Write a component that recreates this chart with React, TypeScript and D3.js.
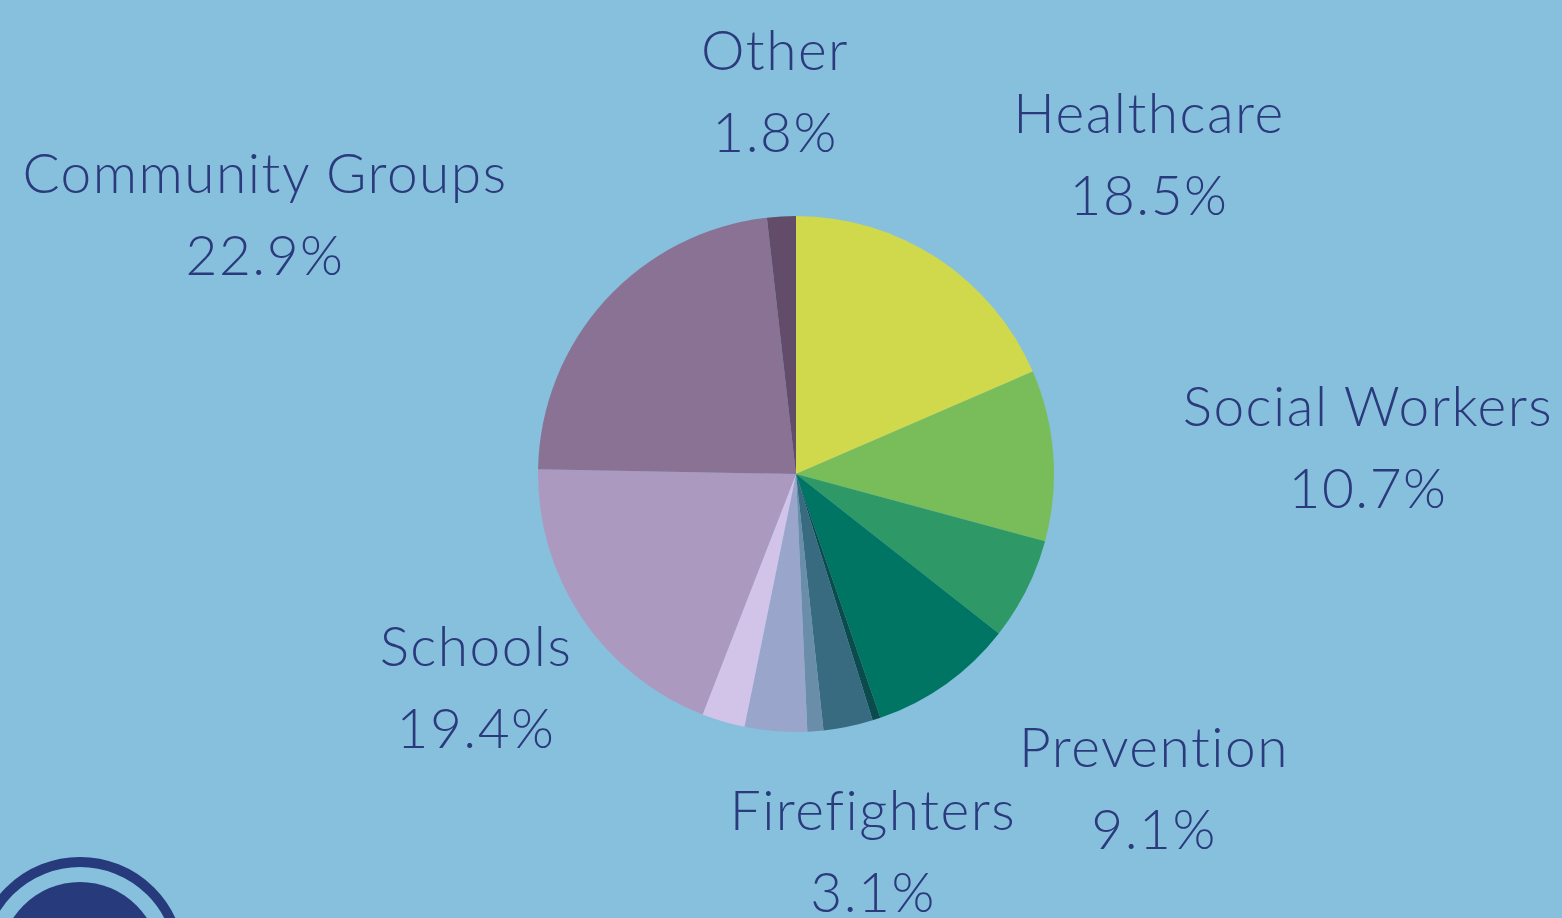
import React from "react";
import * as d3 from "d3";

const categories = ["Healthcare","Social Workers","Unlabeled A","Prevention","Unlabeled B","Firefighters","Unlabeled C","Unlabeled D","Unlabeled E","Schools","Community Groups","Other"];
const values = [18.5, 10.7, 6.4, 9.1, 0.5, 3.1, 1.0, 3.9, 2.7, 19.4, 22.9, 1.8];
const colors = ["#cfd94b","#78bd5a","#2e9966","#007563","#0b4b4c","#386b80","#6a8ea9","#9aa5cc","#d2c3e9","#ac99c0","#8a7294","#634b6a"];
const labelNames = ["Other","Healthcare","Community Groups","Social Workers","Schools","Prevention","Firefighters"];
const labelValues = ["1.8%","18.5%","22.9%","10.7%","19.4%","9.1%","3.1%"];
const labelPos: [number, number][] = [[775,70],[1149,133],[265,193],[1368,426],[476,666],[1154,767],[873,830]];

export default function App() {
  const W = 1562, H = 918;
  const cx = 796, cy = 474, r = 258;
  const pie = d3.pie<number>().sort(null).value(d => d);
  const arcs = pie(values);
  const arc = d3.arc<d3.PieArcDatum<number>>().innerRadius(0).outerRadius(r);
  const font = "Lato, 'Noto Sans', sans-serif";
  return (
    <svg width={W} height={H} style={{position:"absolute", left:0, top:0}}>
      <rect width={W} height={H} fill="#87c0dd" />
      <g transform={`translate(${cx},${cy})`}>
        {arcs.map((a, i) => (
          <path key={categories[i]} d={arc(a) || ""} fill={colors[i]} />
        ))}
      </g>
      {labelNames.map((n, i) => (
        <g key={n} fontFamily={font} fill="#2b3a7d" fontSize={55} fontWeight={300} letterSpacing={1.5} textAnchor="middle">
          <text x={labelPos[i][0]} y={labelPos[i][1]}>{n}</text>
          <text x={labelPos[i][0]} y={labelPos[i][1] + 82}>{labelValues[i]}</text>
        </g>
      ))}
      <circle cx={80} cy={962} r={100} fill="none" stroke="#263a7c" strokeWidth={10} />
      <circle cx={80} cy={962} r={80} fill="#263a7c" />
    </svg>
  );
}
